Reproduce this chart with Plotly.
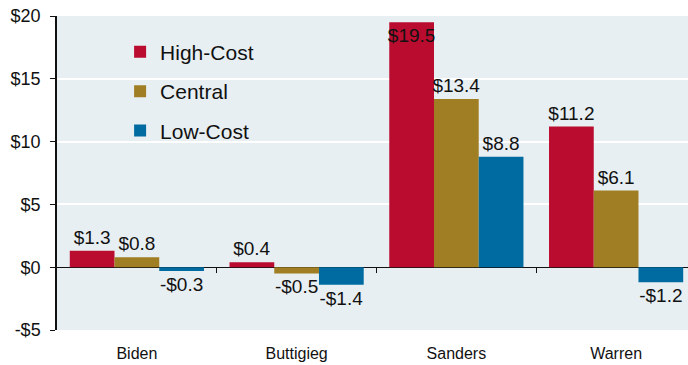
import plotly.graph_objects as go

candidates = ["Biden", "Buttigieg", "Sanders", "Warren"]
series_names = ["High-Cost", "Central", "Low-Cost"]
high_cost = [1.3, 0.4, 19.5, 11.2]
central = [0.8, -0.5, 13.4, 6.1]
low_cost = [-0.3, -1.4, 8.8, -1.2]
colors = ["#BA0C2F", "#A07E24", "#006BA1"]
y_tickvals = [-5, 0, 5, 10, 15, 20]
y_ticktext = ["-$5", "$0", "$5", "$10", "$15", "$20"]
y_range = [-5, 20]

FONT = "Liberation Sans, Arial, sans-serif"


def fmt(v):
    return f"-${abs(v):.1f}" if v < 0 else f"${v:.1f}"


fig = go.Figure()
for name, vals, col in zip(series_names, [high_cost, central, low_cost], colors):
    positions = ["inside" if v > y_range[1] - 1.5 else "outside" for v in vals]
    fig.add_trace(go.Bar(
        x=candidates, y=vals, name=name, legendgroup=name,
        marker=dict(color=col, line=dict(width=0)),
        text=[fmt(v) for v in vals],
        textposition=positions,
        insidetextanchor="end",
        textangle=0,
        constraintext="none",
        textfont=dict(family=FONT, size=19, color="#111111"),
        cliponaxis=False,
    ))

# helper axis to draw category-boundary ticks on the zero line
fig.add_trace(go.Scatter(x=[None], y=[None], xaxis="x2", showlegend=False, hoverinfo="skip"))

fig.update_layout(
    width=688, height=365,
    margin=dict(l=57, r=0, t=16, b=35),
    paper_bgcolor="white",
    plot_bgcolor="#E8EFF3",
    barmode="group",
    bargap=0.16,
    bargroupgap=0,
    font=dict(family=FONT, color="#111111"),
    legend=dict(
        x=0.1, y=0.95, xanchor="left", yanchor="top",
        bgcolor="rgba(0,0,0,0)",
        font=dict(family=FONT, size=21, color="#111111"),
        traceorder="grouped", tracegroupgap=9,
    ),
    xaxis=dict(
        type="category", range=[-0.5, 3.45],
        showgrid=False, showline=False, ticks="",
        tickfont=dict(family=FONT, size=16, color="#111111"),
        ticklabelstandoff=12,
    ),
    xaxis2=dict(
        overlaying="x", anchor="free", position=(0 - y_range[0]) / (y_range[1] - y_range[0]),
        range=[-0.5, 3.45], tickvals=[0.5, 1.5, 2.5], showticklabels=False,
        ticks="outside", ticklen=5, tickwidth=1, tickcolor="#111111",
        showgrid=False, showline=False, zeroline=False,
    ),
    yaxis=dict(
        range=y_range, tickvals=y_tickvals, ticktext=y_ticktext,
        showgrid=True, gridcolor="white", gridwidth=2,
        zeroline=True, zerolinecolor="#111111", zerolinewidth=1,
        showline=True, linecolor="#111111", linewidth=1.5,
        ticks="outside", ticklen=5, tickcolor="#111111", tickwidth=1,
        tickfont=dict(family=FONT, size=18, color="#111111"),
        ticklabelstandoff=6,
    ),
)

fig.write_html("out.html")
